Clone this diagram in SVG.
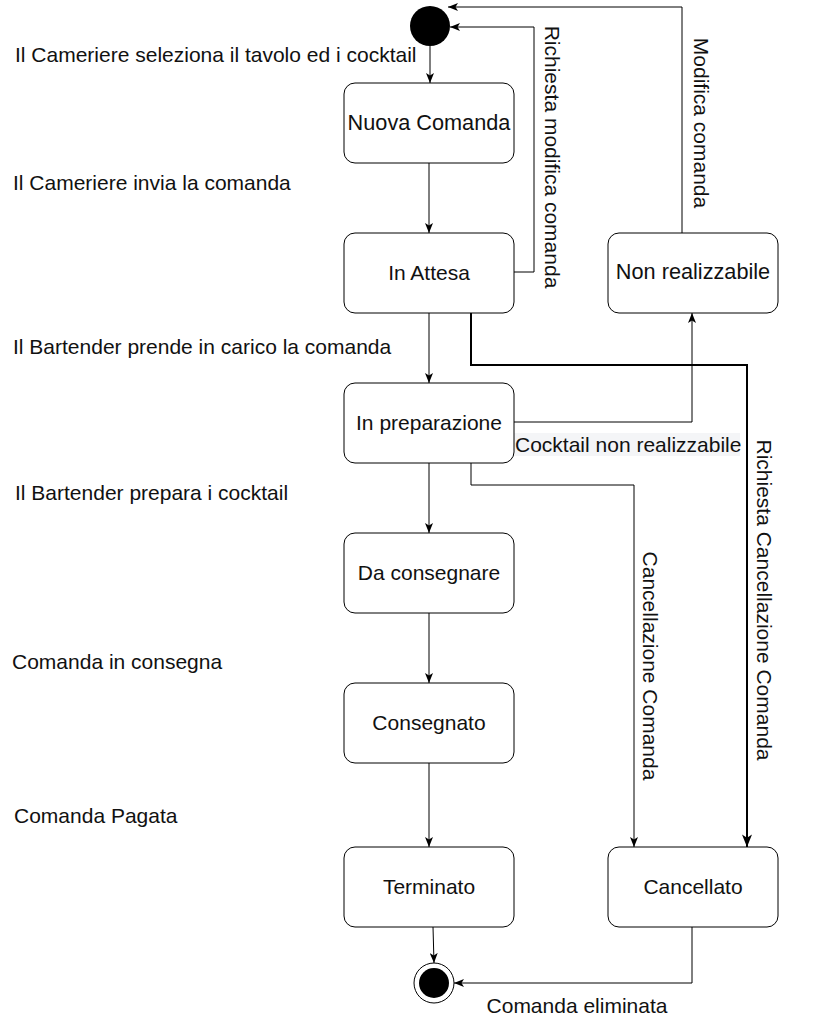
<svg xmlns="http://www.w3.org/2000/svg" width="813" height="1026" viewBox="0 0 813 1026">
<defs>
<style>
text{font-family:"Liberation Sans",Arial,sans-serif;font-size:21px;fill:#111}
.st rect{fill:#fff;stroke:#000;stroke-width:1}
.st text{text-anchor:middle}
.big{font-size:21.7px}
.edge{fill:none;stroke:#000;stroke-width:1}
.thick{stroke-width:2}
</style>
<marker id="arr" viewBox="0 0 10 8" refX="10" refY="4" markerWidth="10" markerHeight="8" orient="auto" markerUnits="userSpaceOnUse"><path d="M0,0 L10,4 L0,8 L2.5,4 z" fill="#000"/></marker>
<marker id="arrB" viewBox="0 0 10 8" refX="10" refY="4" markerWidth="13" markerHeight="10" orient="auto" markerUnits="userSpaceOnUse"><path d="M0,0 L10,4 L0,8 L2.5,4 z" fill="#000"/></marker>
</defs>
<rect width="813" height="1026" fill="#fff"/>

<g id="connectors">
<path class="edge" d="M430,46 L430,83" marker-end="url(#arr)"/>
<path class="edge" d="M429,163 L429,233" marker-end="url(#arr)"/>
<path class="edge" d="M429,313 L429,383" marker-end="url(#arr)"/>
<path class="edge" d="M429,463 L429,533" marker-end="url(#arr)"/>
<path class="edge" d="M429,613 L429,683" marker-end="url(#arr)"/>
<path class="edge" d="M429,763 L429,847" marker-end="url(#arr)"/>
<path class="edge" d="M433,927 L434,963" marker-end="url(#arr)"/>
<path class="edge" d="M514,272 L534,272 L534,27 L450,27" marker-end="url(#arr)"/>
<path class="edge" d="M682,233 L682,7 L448,7" marker-end="url(#arr)"/>
<path class="edge" d="M514,422 L692,422 L692,313" marker-end="url(#arr)"/>
<path class="edge thick" d="M471,313 L471,365 L747,365 L747,847" marker-end="url(#arrB)"/>
<path class="edge" d="M471,463 L471,485 L634,485 L634,847" marker-end="url(#arr)"/>
<path class="edge" d="M692,927 L692,983 L454,983" marker-end="url(#arr)"/>
<text transform="translate(545,157) rotate(90)" text-anchor="middle">Richiesta modifica comanda</text>
<text transform="translate(694,123) rotate(90)" text-anchor="middle">Modifica comanda</text>
<rect x="513" y="433" width="227" height="23" fill="#f4f5f7"/>
<text x="515" y="452">Cocktail non realizzabile</text>
<text transform="translate(643,666) rotate(90)" text-anchor="middle">Cancellazione Comanda</text>
<text transform="translate(757,600) rotate(90)" text-anchor="middle">Richiesta Cancellazione Comanda</text>
<text x="577" y="1013" text-anchor="middle">Comanda eliminata</text>
</g>

<g id="labels">
<text x="15" y="62">Il Cameriere seleziona il tavolo ed i cocktail</text>
<text x="13" y="190">Il Cameriere invia la comanda</text>
<text x="13" y="354">Il Bartender prende in carico la comanda</text>
<text x="15" y="500">Il Bartender prepara i cocktail</text>
<text x="12" y="669">Comanda in consegna</text>
<text x="14" y="823">Comanda Pagata</text>
</g>

<g id="start"><circle cx="430" cy="26" r="20" fill="#000"/></g>
<g id="end"><circle cx="434" cy="983" r="20" fill="#fff" stroke="#000"/><circle cx="434" cy="983" r="15" fill="#000"/></g>

<g id="nuova-comanda" class="st"><rect x="344" y="83" width="170" height="80" rx="11"/><text class="big" x="429" y="130">Nuova Comanda</text></g>
<g id="in-attesa" class="st"><rect x="344" y="233" width="170" height="80" rx="11"/><text x="429" y="280">In Attesa</text></g>
<g id="in-preparazione" class="st"><rect x="344" y="383" width="170" height="80" rx="11"/><text x="429" y="430">In preparazione</text></g>
<g id="da-consegnare" class="st"><rect x="344" y="533" width="170" height="80" rx="11"/><text x="429" y="580">Da consegnare</text></g>
<g id="consegnato" class="st"><rect x="344" y="683" width="170" height="80" rx="11"/><text x="429" y="730">Consegnato</text></g>
<g id="terminato" class="st"><rect x="344" y="847" width="170" height="80" rx="11"/><text x="429" y="894">Terminato</text></g>
<g id="non-realizzabile" class="st"><rect x="608" y="233" width="170" height="80" rx="11"/><text class="big" x="693" y="279">Non realizzabile</text></g>
<g id="cancellato" class="st"><rect x="608" y="847" width="170" height="80" rx="11"/><text x="693" y="894">Cancellato</text></g>
</svg>
